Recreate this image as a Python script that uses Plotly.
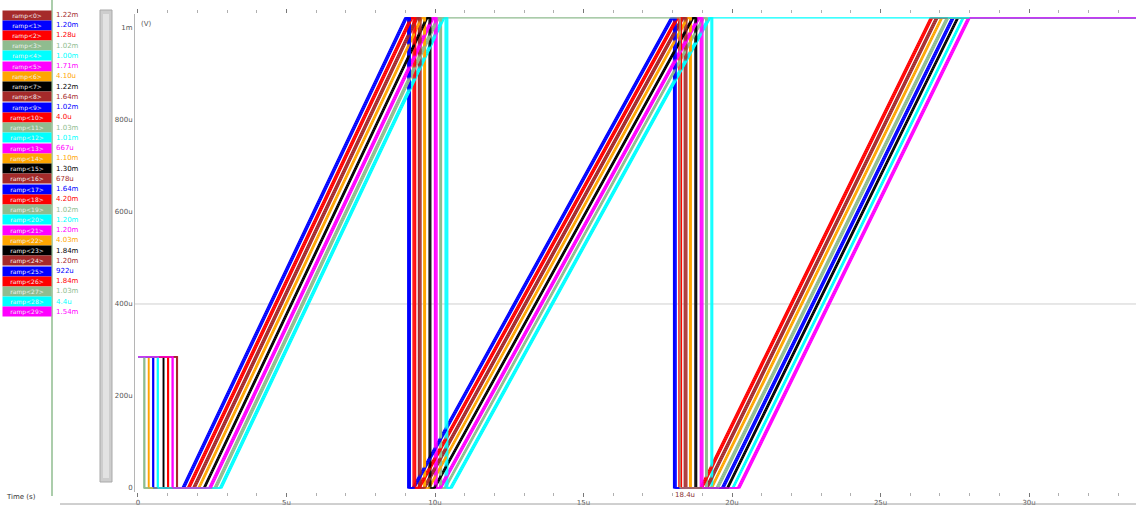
import plotly.graph_objects as go

W, H = 1136, 511

# ---- signals -------------------------------------------------------------
palette = ["#a52a2a", "#0000ff", "#ff0000", "#8fbc8f",
           "#00ffff", "#ff00ff", "#ffa500", "#000000"]
signal_names = [f"ramp<{i}>" for i in range(30)]
cursor_values = ["1.22m", "1.20m", "1.28u", "1.02m", "1.00m", "1.71m", "4.10u", "1.22m",
                 "1.64m", "1.02m", "4.0u", "1.03m", "1.01m", "667u", "1.10m", "1.30m",
                 "678u", "1.64m", "4.20m", "1.02m", "1.20m", "1.20m", "4.03m", "1.84m",
                 "1.20m", "922u", "1.84m", "1.03m", "4.4u", "1.54m"]

# levels in uV
start_level = 285
top_level = 1022

# times in us, one entry per colour group (palette order)
initial_drop = [1.30, 0.50, 1.00, 0.20, 0.65, 1.15, 0.35, 0.85]
ramp1_start = [1.84, 1.48, 1.66, 2.56, 2.74, 2.38, 2.02, 2.20]
ramp2_start = [9.59, 9.23, 9.41, 10.31, 10.49, 10.13, 9.77, 9.95]
ramp3_start = [19.10, 19.64, 18.92, 19.46, 20.00, 20.18, 19.28, 19.82]
ramp1_len, ramp2_len, ramp3_len = 7.50, 8.70, 7.75
reset_hold = 0.10
# per-copy shift inside each colour group
copy_shift = [0.0, 0.03, 0.06, 0.09]
drop_shift = [0.0, 0.01, 0.02, 0.03]
# rows that stay high across a reset
hold_through_2nd = 27     # released at the second reset edge
hold_to_end = 28          # stays high after its second ramp
late_release = 18.25
t_end = 34.0

fig = go.Figure()

for i, name in enumerate(signal_names):
    g = i % 8
    c = i // 8
    s = copy_shift[c]
    d0 = initial_drop[g] + drop_shift[c]
    r1 = ramp1_start[g] + s
    r2 = ramp2_start[g] + s
    r3 = ramp3_start[g] + s
    top1 = r1 + ramp1_len
    top2 = r2 + ramp2_len
    top3 = r3 + ramp3_len
    xs = [0, d0, d0, r1, top1]
    ys = [start_level, start_level, 0, 0, top_level]
    if i == hold_through_2nd:
        xs += [late_release, late_release, r3, top3, t_end]
        ys += [top_level, 0, 0, top_level, top_level]
    elif i == hold_to_end:
        rs1 = top1 + reset_hold
        xs += [rs1, rs1, r2, top2, t_end]
        ys += [top_level, 0, 0, top_level, top_level]
    else:
        rs1 = top1 + reset_hold
        rs2 = top2 + reset_hold
        xs += [rs1, rs1, r2, top2, rs2, rs2, r3, top3, t_end]
        ys += [top_level, 0, 0, top_level, top_level, 0, 0, top_level, top_level]
    fig.add_trace(go.Scatter(x=xs, y=ys, mode="lines", name=name,
                             line=dict(color=palette[g], width=1.2),
                             showlegend=False, hoverinfo="skip"))

# ---- axes ------------------------------------------------------------------
x_ticks = [0, 5, 10, 15, 20, 25, 30]
x_labels = ["0", "5u", "10u", "15u", "20u", "25u", "30u"]
y_ticks = [0, 200, 400, 600, 800, 1000]
y_labels = ["0", "200u", "400u", "600u", "800u", "1m"]

font_small = dict(family="DejaVu Sans", size=7, color="#555555")

fig.update_layout(
    width=W, height=H,
    margin=dict(l=0, r=0, t=0, b=0, pad=0),
    paper_bgcolor="white", plot_bgcolor="white",
    xaxis=dict(domain=[135 / W, 1], range=[-0.1, 33.6],
               tickvals=x_ticks, ticktext=x_labels, tickfont=font_small,
               showgrid=False, zeroline=False, showline=False,
               ticks="outside", ticklen=4, tickcolor="#777777",
               minor=dict(dtick=1, ticks="outside", ticklen=3, tickcolor="#b0b0b0"),
               mirror="ticks"),
    yaxis=dict(domain=[19 / H, 497 / H], range=[-8.7, 1030.4],
               tickvals=y_ticks, ticktext=y_labels, tickfont=font_small,
               showgrid=False, zeroline=False, showline=True,
               linecolor="#b5b5b5", linewidth=1, ticks=""),
)

def px_x(p):
    return p / W

def px_y(p):
    return 1 - p / H

shapes = []
# 400u reference line
shapes.append(dict(type="line", xref="x domain", yref="y", x0=0, x1=1, y0=400, y1=400,
                   line=dict(color="#cfcfcf", width=1), layer="below"))
# bottom rule
shapes.append(dict(type="line", xref="paper", yref="paper", x0=px_x(60), x1=1,
                   y0=px_y(504), y1=px_y(504), line=dict(color="#a0a0a0", width=1)))
# legend separator
shapes.append(dict(type="line", xref="paper", yref="paper", x0=px_x(52), x1=px_x(52),
                   y0=px_y(0), y1=px_y(496), line=dict(color="#8fbc8f", width=1.5)))
# vertical scroll bar
shapes.append(dict(type="rect", xref="paper", yref="paper", x0=px_x(100), x1=px_x(112),
                   y0=px_y(482), y1=px_y(10), fillcolor="#cdcdcd",
                   line=dict(color="#a9a9a9", width=1)))
shapes.append(dict(type="rect", xref="paper", yref="paper", x0=px_x(103), x1=px_x(109),
                   y0=px_y(478), y1=px_y(14), fillcolor="#e2e2e2", line=dict(width=0)))

annotations = []
for i, name in enumerate(signal_names):
    col = palette[i % 8]
    yc = 15 + i * 10.24
    annotations.append(dict(xref="paper", yref="paper", x=px_x(2), y=px_y(yc),
                            xanchor="left", yanchor="middle",
                            text=name, showarrow=False, bgcolor=col, borderpad=0,
                            width=48, height=9,
                            font=dict(family="DejaVu Sans", size=6, color="#f0f0f0")))
    annotations.append(dict(xref="paper", yref="paper", x=px_x(54), y=px_y(yc),
                            xanchor="left", yanchor="middle",
                            text=cursor_values[i], showarrow=False,
                            font=dict(family="DejaVu Sans", size=7, color=col)))

annotations.append(dict(xref="paper", yref="paper", x=px_x(139), y=px_y(18),
                        xanchor="left", text="(V)", showarrow=False,
                        font=dict(family="DejaVu Sans", size=7, color="#555555")))
annotations.append(dict(xref="paper", yref="paper", x=px_x(4), y=px_y(503),
                        xanchor="left", text="Time (s)", showarrow=False,
                        font=dict(family="DejaVu Sans", size=7, color="#333333")))
annotations.append(dict(xref="x", yref="paper", x=18.4, y=px_y(501),
                        text="18.4u", showarrow=False,
                        font=dict(family="DejaVu Sans", size=7, color="#8b3030")))

fig.update_layout(shapes=shapes, annotations=annotations)

fig.write_html("out.html")
